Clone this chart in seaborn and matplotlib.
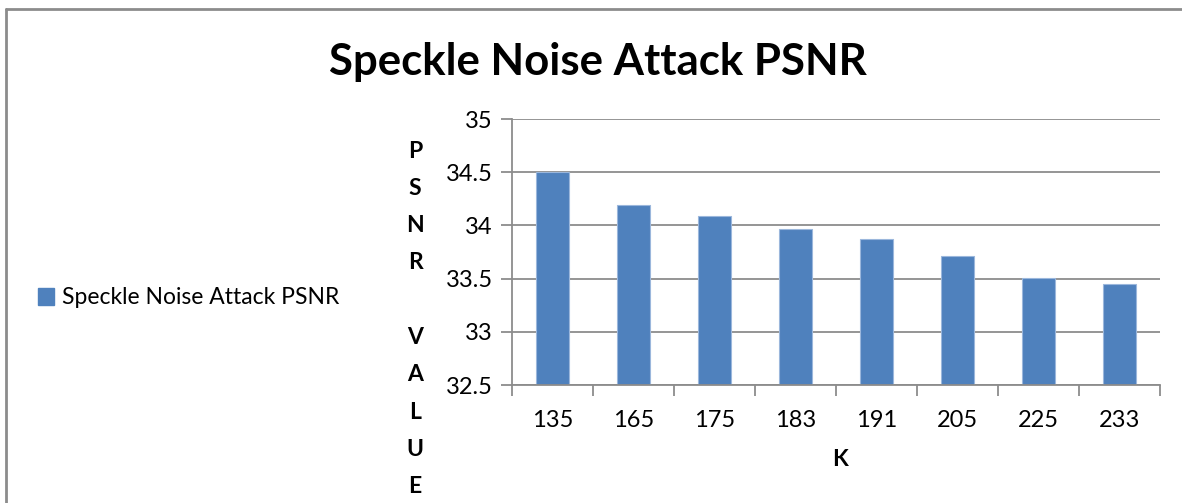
import numpy as np
import pandas as pd
import matplotlib
matplotlib.use("Agg")
import matplotlib.pyplot as plt
import seaborn as sns
from matplotlib.lines import Line2D
from matplotlib.patches import Patch

# datos
k_valores = ["135", "165", "175", "183", "191", "205", "225", "233"]
psnr = [34.50, 34.19, 34.09, 33.97, 33.87, 33.71, 33.51, 33.45]
y_ticks = [32.5, 33, 33.5, 34, 34.5, 35]
y_tick_labels = ["32.5", "33", "33.5", "34", "34.5", "35"]
titulo = "Speckle Noise Attack PSNR"
serie = "Speckle Noise Attack PSNR"

sns.set_theme(style="white")
plt.rcParams['font.family'] = ['Lato', 'DejaVu Sans']
plt.rcParams['text.color'] = 'black'

azul = "#4F81BD"
gris = "#8C8C8C"

df = pd.DataFrame({"K": k_valores, "PSNR": psnr})

fig = plt.figure(figsize=(11.82, 5.03), dpi=100)
ax = fig.add_axes([512 / 1182, 1 - 385 / 503, (1160 - 512) / 1182, (385 - 119) / 503])

sns.barplot(data=df, x="K", y="PSNR", order=k_valores, color=azul,
            width=0.41, saturation=1, edgecolor="#9BB7DC", linewidth=0.8, ax=ax)

ax.set_ylim(32.5, 35)
ax.set_xlim(-0.5, len(k_valores) - 0.5)
ax.set_yticks(y_ticks)
ax.set_yticklabels(y_tick_labels)
ax.yaxis.grid(True, color=gris, linewidth=1.3)
ax.set_axisbelow(True)

# marcas del eje x en los limites de categoria
ax.set_xticks(np.arange(-0.5, len(k_valores), 1), minor=True)
ax.tick_params(axis="x", which="major", length=0, pad=18, labelsize=17, labelcolor="black")
ax.tick_params(axis="x", which="minor", length=8, width=1.3, color=gris, direction="out", bottom=True)
ax.tick_params(axis="y", which="major", length=8, width=1.3, color=gris, direction="out",
               left=True, pad=6, labelsize=17, labelcolor="black")

for lado in ["top", "right"]:
    ax.spines[lado].set_visible(False)
for lado in ["left", "bottom"]:
    ax.spines[lado].set_color(gris)
    ax.spines[lado].set_linewidth(1.3)

ax.set_xlabel("")
ax.set_ylabel("")

fig.text(598 / 1182, 1 - 62 / 503, titulo, ha="center", va="center",
         fontsize=31.5, fontweight="bold", color="black")
fig.text(840 / 1182, 1 - 460 / 503, "K", ha="center", va="center",
         fontsize=16.5, fontweight="bold", color="black")

letras = ["P", "S", "N", "R", "", "V", "A", "L", "U", "E"]
for i, letra in enumerate(letras):
    fig.text(415 / 1182, 1 - (151 + i * 37.3) / 503, letra, ha="center", va="center",
             fontsize=16.5, fontweight="bold", color="black")

fig.legend(handles=[Patch(facecolor=azul, edgecolor=azul)], labels=[serie],
           loc="center left", bbox_to_anchor=(38 / 1182, 1 - 298 / 503),
           frameon=False, fontsize=16.5, handlelength=0.7, handleheight=0.7,
           handletextpad=0.35, borderpad=0, borderaxespad=0)

# marco exterior
fig.add_artist(Line2D([6 / 1182, 6 / 1182], [0, 1 - 9 / 503], color=gris, lw=2,
                      transform=fig.transFigure))
fig.add_artist(Line2D([6 / 1182, 1], [1 - 9 / 503, 1 - 9 / 503], color=gris, lw=2,
                      transform=fig.transFigure))

fig.savefig("out.png", dpi=100)
